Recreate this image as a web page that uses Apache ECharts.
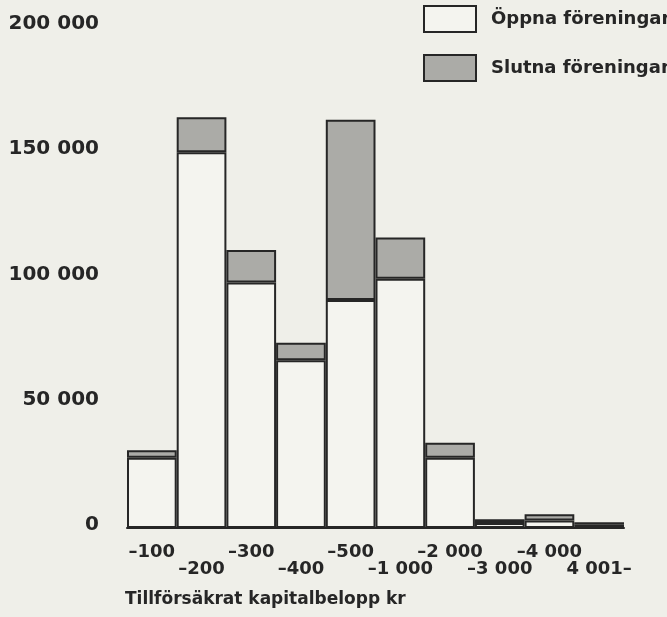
<!DOCTYPE html>
<html>
<head>
<meta charset="utf-8">
<script src="https://cdn.jsdelivr.net/npm/echarts@6/dist/echarts.min.js"></script>
<style>
html,body{margin:0;padding:0;background:#efefe9;}
#chart{width:667px;height:617px;}
</style>
</head>
<body>
<div id="chart"></div>
<script>
const categories = ['–100','–200','–300','–400','–500','–1 000','–2 000','–3 000','–4 000','4 001–'];
const openValues = [28000, 150000, 98000, 67000, 91000, 99500, 28000, 2000, 3000, 1500];
const closedValues = [3000, 14000, 13000, 7000, 72000, 16500, 6000, 1500, 2500, 800];
const yTicks = [0, 50000, 100000, 150000, 200000];
const seriesNames = ['Öppna föreningar', 'Slutna föreningar'];
const axisTitle = 'Tillförsäkrat kapitalbelopp kr';

const font = 'DejaVu Sans';
const ink = '#262626';
const chart = echarts.init(document.getElementById('chart'));
chart.setOption({
  backgroundColor: '#efefe9',
  animation: false,
  title: {
    text: axisTitle,
    left: 120, top: 586,
    textStyle: {fontFamily: font, fontWeight: 'bold', fontSize: 17, color: ink}
  },
  legend: {
    orient: 'vertical',
    left: 423, top: 5, padding: 0,
    icon: 'rect',
    itemWidth: 52, itemHeight: 26, itemGap: 21,
    data: seriesNames,
    textStyle: {fontFamily: font, fontWeight: 'bold', fontSize: 18, color: ink, padding: [0,0,0,10]}
  },
  grid: {left: 127, right: 43, top: 27, bottom: 89},
  xAxis: {
    type: 'category',
    data: categories,
    axisLine: {show: true, lineStyle: {color: ink, width: 2}},
    axisTick: {show: false},
    axisLabel: {
      interval: 0,
      margin: 16,
      fontFamily: font, fontWeight: 'bold', fontSize: 18, color: ink,
      lineHeight: 17,
      formatter: function (v, i) { return i % 2 === 0 ? v + '\n ' : ' \n' + v; }
    }
  },
  yAxis: {
    type: 'value',
    min: yTicks[0], max: yTicks[yTicks.length - 1], interval: yTicks[1] - yTicks[0],
    axisLine: {show: false},
    axisTick: {show: false},
    splitLine: {show: false},
    axisLabel: {
      margin: 28,
      verticalAlign: 'bottom',
      lineHeight: 6,
      fontFamily: font, fontWeight: 'bold', fontSize: 20, color: ink,
      formatter: function (v) { return String(v).replace(/\B(?=(\d{3})+(?!\d))/g, ' '); }
    }
  },
  series: [
    {
      name: seriesNames[0], type: 'bar', stack: 'total', data: openValues,
      barCategoryGap: 0,
      itemStyle: {color: '#f4f4ef', borderColor: ink, borderWidth: 2}
    },
    {
      name: seriesNames[1], type: 'bar', stack: 'total', data: closedValues,
      barCategoryGap: 0,
      itemStyle: {color: '#ababa7', borderColor: ink, borderWidth: 2}
    }
  ]
});
</script>
</body>
</html>
